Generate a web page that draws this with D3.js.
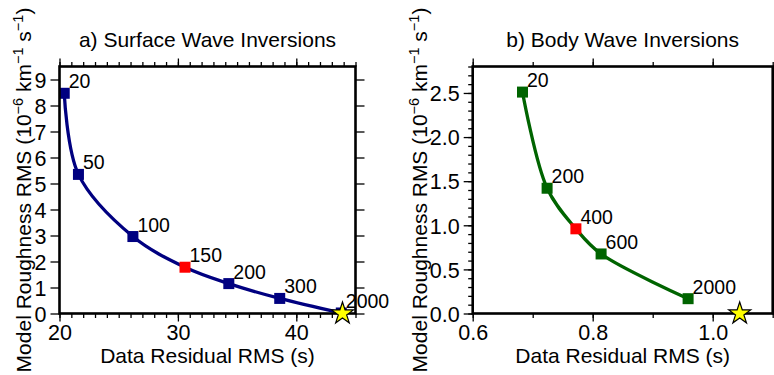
<!DOCTYPE html>
<html>
<head>
<meta charset="utf-8">
<script src="https://cdn.jsdelivr.net/npm/d3@7"></script>
<style>
  html, body { margin: 0; padding: 0; background: #fff; }
  svg { display: block; }
  text { font-family: "Liberation Sans", Arial, Helvetica, sans-serif; fill: #000; }
</style>
</head>
<body>
<svg id="chart" width="774" height="375"></svg>
<script>
// ---- Data ----
const surfLambda = ["20", "50", "100", "150", "200", "300", "2000"];
const surfResidual = [20.4, 21.6, 26.2, 30.6, 34.3, 38.6, 43.8];
const surfRoughness = [8.47, 5.35, 2.96, 1.78, 1.15, 0.58, 0.02];
const surfBest = "150";
const surfStar = [43.9, 0.0];
const surfXTicks = [20, 30, 40];
const surfYTicks = [0, 1, 2, 3, 4, 5, 6, 7, 8, 9];

const bodyLambda = ["20", "200", "400", "600", "2000"];
const bodyResidual = [0.683, 0.724, 0.772, 0.814, 0.959];
const bodyRoughness = [2.51, 1.42, 0.96, 0.675, 0.168];
const bodyBest = "400";
const bodyStar = [1.045, 0.0];
const bodyXTicks = [0.6, 0.8, 1.0];
const bodyYTicks = [0.0, 0.5, 1.0, 1.5, 2.0, 2.5];

const svg = d3.select("#chart");

function panel(cfg) {
  const g = svg.append("g");
  const x = d3.scaleLinear().domain(cfg.xDomain).range([cfg.left, cfg.right]);
  const y = d3.scaleLinear().domain(cfg.yDomain).range([cfg.bottom, cfg.top]);
  const clipId = "clip-" + cfg.id;
  svg.append("clipPath").attr("id", clipId).append("rect")
    .attr("x", cfg.left).attr("y", cfg.top)
    .attr("width", cfg.right - cfg.left).attr("height", cfg.bottom - cfg.top);

  const tickStyle = sel => {
    sel.select(".domain").remove();
    sel.selectAll(".tick line").attr("stroke", "#000").attr("stroke-width", 1.3);
  };
  const noLabels = sel => sel.selectAll("text").remove();

  // minor ticks
  const minorX = d3.range(cfg.xDomain[0], cfg.xDomain[1] + 1e-9, cfg.xMinor).map(v => +v.toFixed(6));
  const minorY = cfg.yMinor ? d3.range(cfg.yDomain[0], cfg.yDomain[1] + 1e-9, cfg.yMinor).map(v => +v.toFixed(6)) : [];

  g.append("g").attr("transform", `translate(0,${cfg.bottom})`)
    .call(d3.axisBottom(x).tickValues(minorX).tickSize(4.5).tickFormat(""))
    .call(tickStyle).call(noLabels);
  g.append("g").attr("transform", `translate(0,${cfg.top})`)
    .call(d3.axisTop(x).tickValues(minorX).tickSize(4.5).tickFormat(""))
    .call(tickStyle).call(noLabels);
  if (minorY.length) {
    g.append("g").attr("transform", `translate(${cfg.left},0)`)
      .call(d3.axisLeft(y).tickValues(minorY).tickSize(4.5).tickFormat(""))
      .call(tickStyle).call(noLabels);
    g.append("g").attr("transform", `translate(${cfg.right},0)`)
      .call(d3.axisRight(y).tickValues(minorY).tickSize(4.5).tickFormat(""))
      .call(tickStyle).call(noLabels);
  }

  // major ticks
  const xb = g.append("g").attr("transform", `translate(0,${cfg.bottom})`)
    .call(d3.axisBottom(x).tickValues(cfg.xTicks).tickSize(8).tickPadding(5).tickFormat(cfg.xFmt))
    .call(tickStyle);
  xb.selectAll("text").attr("font-size", 21.5).attr("dy", null).attr("y", 26)
    .attr("dominant-baseline", "auto").attr("fill", "#000");
  g.append("g").attr("transform", `translate(0,${cfg.top})`)
    .call(d3.axisTop(x).tickValues(cfg.xTicks).tickSize(8).tickFormat(""))
    .call(tickStyle).call(noLabels);
  const yl = g.append("g").attr("transform", `translate(${cfg.left},0)`)
    .call(d3.axisLeft(y).tickValues(cfg.yTicks).tickSize(9).tickPadding(4).tickFormat(cfg.yFmt))
    .call(tickStyle);
  yl.selectAll("text").attr("font-size", 21.5).attr("dy", "0.36em").attr("fill", "#000");
  g.append("g").attr("transform", `translate(${cfg.right},0)`)
    .call(d3.axisRight(y).tickValues(cfg.yTicks).tickSize(9).tickFormat(""))
    .call(tickStyle).call(noLabels);

  // curve + markers (clipped)
  const pts = cfg.xs.map((v, i) => [x(v), y(cfg.ys[i])]);
  const plot = g.append("g").attr("clip-path", `url(#${clipId})`);
  plot.append("path")
    .attr("d", d3.line().curve(d3.curveCatmullRom.alpha(0.5))(pts))
    .attr("fill", "none").attr("stroke", cfg.color).attr("stroke-width", 3.3);
  const s = 11;
  plot.selectAll("rect.pt").data(cfg.labels).join("rect")
    .attr("class", "pt")
    .attr("x", (d, i) => x(cfg.xs[i]) - s / 2)
    .attr("y", (d, i) => y(cfg.ys[i]) - s / 2)
    .attr("width", s).attr("height", s)
    .attr("fill", d => d === cfg.best ? "#ff0000" : cfg.color);

  // frame
  g.append("rect")
    .attr("x", cfg.left).attr("y", cfg.top)
    .attr("width", cfg.right - cfg.left).attr("height", cfg.bottom - cfg.top)
    .attr("fill", "none").attr("stroke", "#000").attr("stroke-width", 2.6);

  // star
  g.append("path")
    .attr("d", d3.symbol().type(d3.symbolStar).size(150)())
    .attr("transform", `translate(${x(cfg.star[0])},${y(cfg.star[1])})`)
    .attr("fill", "#ffff00").attr("stroke", "#000").attr("stroke-width", 1.2);

  // point labels
  g.selectAll("text.lbl").data(cfg.labels).join("text")
    .attr("class", "lbl")
    .attr("x", (d, i) => x(cfg.xs[i]) + 4.5)
    .attr("y", (d, i) => y(cfg.ys[i]) - 5)
    .attr("font-size", 19.5)
    .text(d => d);

  // title
  g.append("text")
    .attr("x", (cfg.left + cfg.right) / 2).attr("y", 46.5)
    .attr("text-anchor", "middle").attr("font-size", 21)
    .text(cfg.title);

  // x label
  g.append("text")
    .attr("x", (cfg.left + cfg.right) / 2).attr("y", 363)
    .attr("text-anchor", "middle").attr("font-size", 21)
    .text("Data Residual RMS (s)");

  // y label with superscripts
  const yt = g.append("text")
    .attr("transform", `translate(${cfg.yLabelX},${(cfg.top + cfg.bottom) / 2}) rotate(-90)`)
    .attr("text-anchor", "middle").attr("font-size", 21);
  yt.append("tspan").text("Model Roughness RMS (10");
  yt.append("tspan").attr("font-size", 14.5).attr("dy", -8).text("\u22126");
  yt.append("tspan").attr("dy", 8).text(" km");
  yt.append("tspan").attr("font-size", 14.5).attr("dy", -8).text("\u22121");
  yt.append("tspan").attr("dy", 8).text(" s");
  yt.append("tspan").attr("font-size", 14.5).attr("dy", -8).text("\u22121");
  yt.append("tspan").attr("dy", 8).text(")");
}

panel({
  id: "a", left: 59.5, right: 355.5, top: 66.5, bottom: 313.5,
  xDomain: [20, 45], yDomain: [0, 9.5], xMinor: 1, yMinor: null,
  xTicks: surfXTicks, yTicks: surfYTicks,
  xFmt: d3.format("d"), yFmt: d3.format("d"),
  xs: surfResidual, ys: surfRoughness, labels: surfLambda, best: surfBest,
  star: surfStar, color: "#000080",
  title: "a) Surface Wave Inversions", yLabelX: 31
});

panel({
  id: "b", left: 472.7, right: 772.7, top: 66.5, bottom: 313.5,
  xDomain: [0.6, 1.1], yDomain: [0, 2.8], xMinor: 0.1, yMinor: 0.1,
  xTicks: bodyXTicks, yTicks: bodyYTicks,
  xFmt: d3.format(".1f"), yFmt: d3.format(".1f"),
  xs: bodyResidual, ys: bodyRoughness, labels: bodyLambda, best: bodyBest,
  star: bodyStar, color: "#006400",
  title: "b) Body Wave Inversions", yLabelX: 427
});
</script>
</body>
</html>
